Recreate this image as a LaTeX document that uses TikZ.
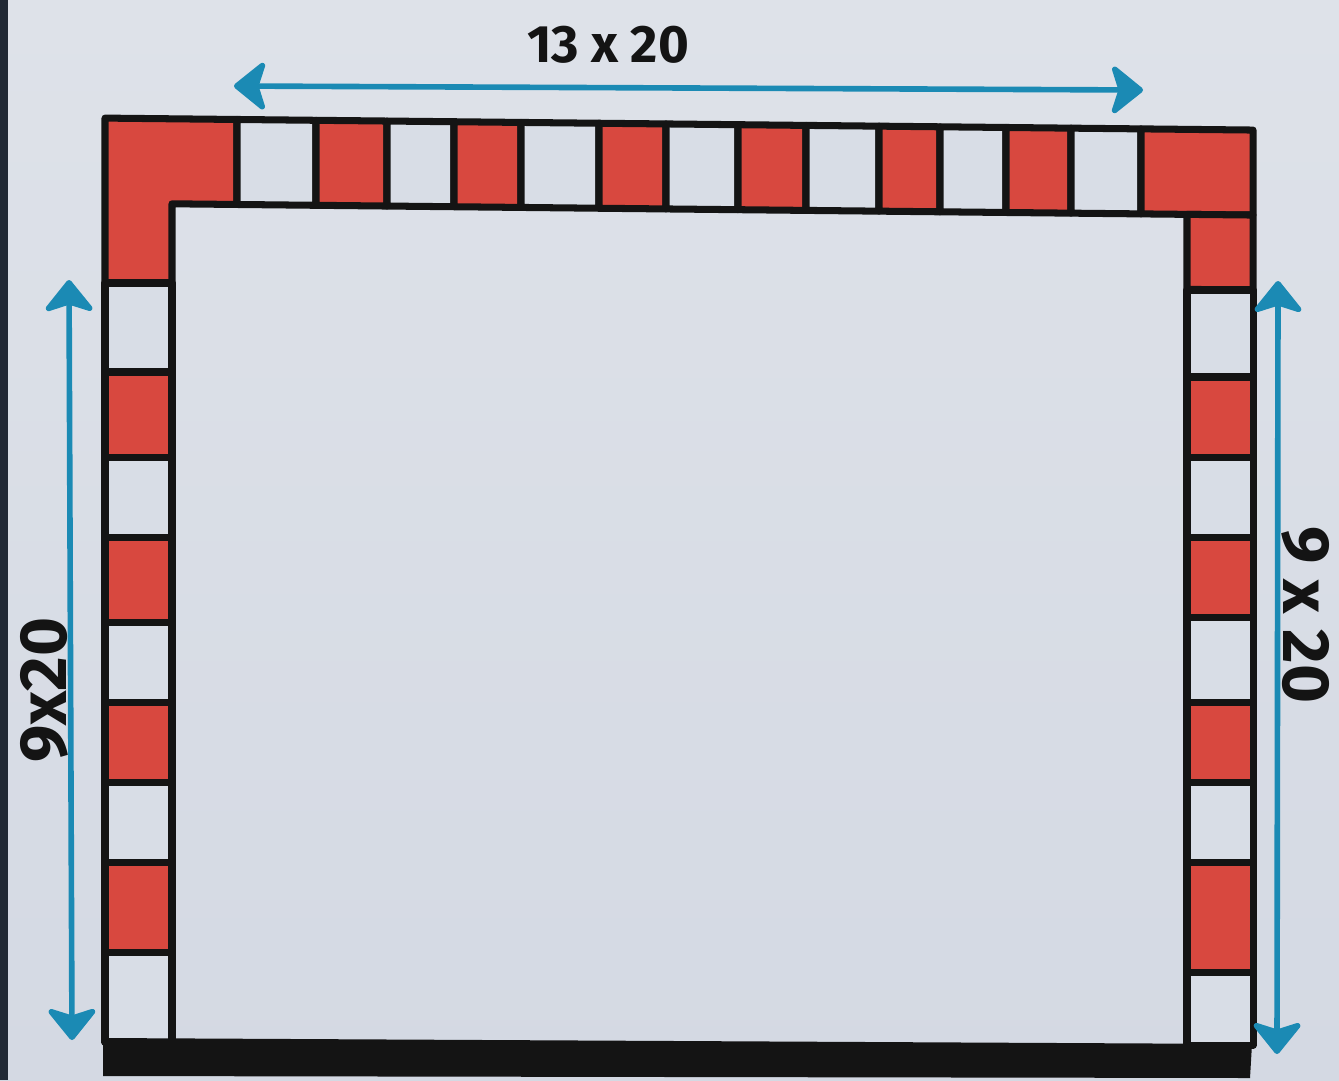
\documentclass[tikz,border=0pt]{standalone}
\usepackage{fontspec}
\setmainfont{Fira Sans}
\usetikzlibrary{arrows.meta}
\definecolor{paper}{HTML}{D4D9E3}
\definecolor{papertop}{HTML}{DEE2E9}
\definecolor{papermid}{HTML}{CDD2DE}
\definecolor{tilered}{HTML}{D8483F}
\definecolor{tilewhite}{HTML}{D8DDE6}
\definecolor{ink}{HTML}{141414}
\definecolor{penblue}{HTML}{1B8AB4}
\definecolor{edge}{HTML}{212935}

\begin{document}
\begin{tikzpicture}[
  x=0.02cm, y=-0.02cm,
  redtile/.style={fill=tilered, draw=ink, line width=4pt, line join=round},
  blanktile/.style={fill=tilewhite, draw=ink, line width=4pt, line join=round},
  dimarrow/.style={{Stealth[length=20pt,width=32pt,inset=5pt,round]}-{Stealth[length=20pt,width=32pt,inset=5pt,round]},
                   draw=penblue, line width=3.2pt, line cap=round},
  dimlbl/.style={font=\fontsize{30}{34}\selectfont\bfseries, text=ink, inner sep=0pt},
  sidelbl/.style={dimlbl, font=\fontsize{38}{42}\selectfont\bfseries},
]
\useasboundingbox (0,0) rectangle (1339,1080);
\shade[top color=papertop, middle color=papermid, bottom color=paper] (0,0) rectangle (1339,1080);
\fill[edge] (0,0) rectangle (8,1080);

% top row, drawn a little slanted like the sketch
\begin{scope}[yslant=-0.0104]
  \draw[redtile] (105,117) -- (237,117) -- (237,202) -- (172,202) -- (172,282) -- (105,282) -- cycle;
  \foreach \xa/\xb/\kind in {237/316/blanktile, 316/387/redtile, 387/454/blanktile, 454/521/redtile,
      521/599/blanktile, 599/666/redtile, 666/738/blanktile, 738/806/redtile, 806/879/blanktile,
      879/940/redtile, 940/1006/blanktile, 1006/1071/redtile, 1071/1141/blanktile}
    \draw[\kind] (\xa,117) rectangle (\xb,202);
  \draw[redtile] (1141,117) rectangle (1253,202);
  \draw[redtile] (1187,202) rectangle (1253,277);
\end{scope}

% left column
\foreach \ya/\yb/\kind in {283/372/blanktile, 372/457/redtile, 457/537/blanktile, 537/622/redtile,
    622/702/blanktile, 702/782/redtile, 782/862/blanktile, 862/952/redtile, 952/1042/blanktile}
  \draw[\kind] (105,\ya) rectangle (172,\yb);

% right column
\foreach \ya/\yb/\kind in {290/377/blanktile, 377/457/redtile, 457/537/blanktile, 537/617/redtile,
    617/702/blanktile, 702/782/redtile, 782/862/blanktile, 862/972/redtile, 972/1045/blanktile}
  \draw[\kind] (1187,\ya) rectangle (1253,\yb);

% base
\fill[ink] (103,1038) -- (1252,1044) -- (1250,1078) -- (103,1076) -- cycle;

% dimensions
\coordinate (topL) at (234,86);
\coordinate (topR) at (1143,90);
\coordinate (leftT) at (69,280);
\coordinate (leftB) at (72,1040);
\coordinate (rightT) at (1278,281);
\coordinate (rightB) at (1277,1054);

\draw[dimarrow] (topL) -- (topR);
\draw[dimarrow] (leftT) -- (leftB);
\draw[dimarrow] (rightT) -- (rightB);

\node[dimlbl] (toplbl) at (608,45) {13 x 20};
\node[sidelbl, rotate=90] (leftlbl) at (44,690) {9x20};
\node[sidelbl, rotate=-90] (rightlbl) at (1306,615) {9 x 20};

\end{tikzpicture}
\end{document}
